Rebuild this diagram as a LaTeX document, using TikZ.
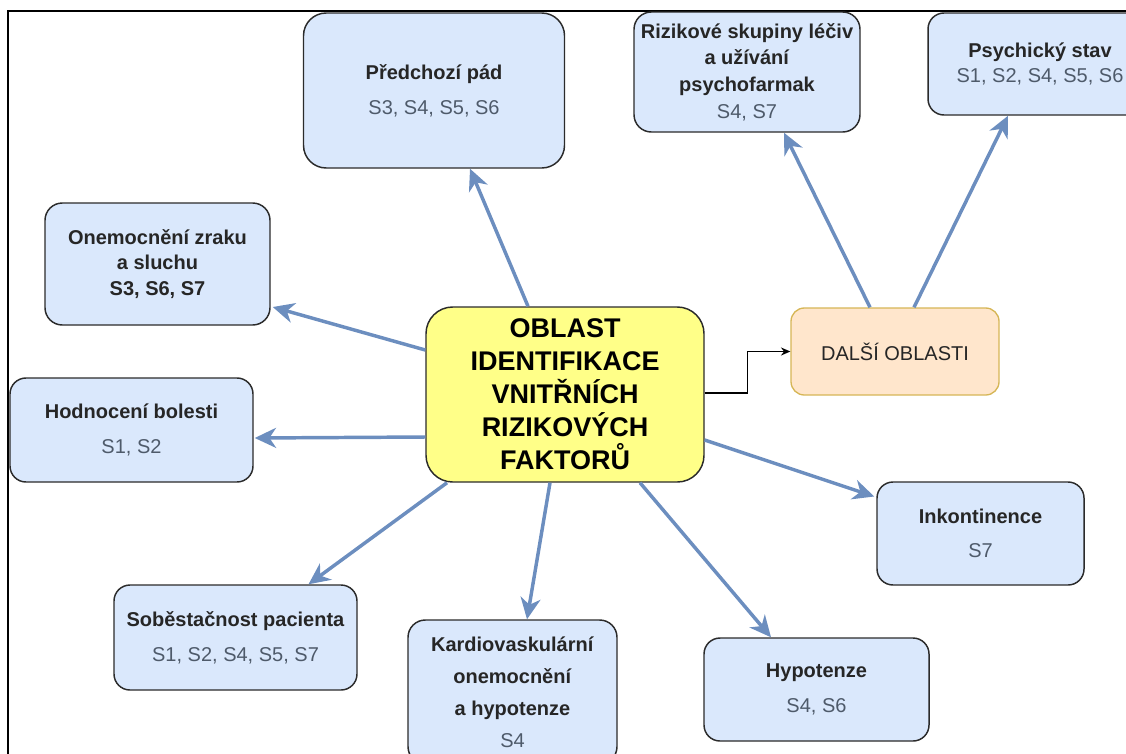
\documentclass[tikz,border=0pt]{standalone}
\usepackage{fontspec}
\setmainfont{Liberation Sans}
\usetikzlibrary{arrows.meta,calc}
\definecolor{factorfill}{HTML}{DAE8FC}
\definecolor{mainfill}{HTML}{FFFF88}
\definecolor{morefill}{HTML}{FFE6CC}
\definecolor{moreline}{HTML}{D6B656}
\definecolor{boxline}{HTML}{2B2B2B}
\definecolor{arrowblue}{HTML}{6C8EBF}
\definecolor{titletext}{HTML}{262626}
\definecolor{refgray}{HTML}{4E5A6A}
\newcommand\ttl[1]{\textbf{#1}}
\newcommand\sgrp[1]{\textcolor{refgray}{#1}}
\tikzset{
  boxsize/.style 2 args={minimum width=#1*0.75pt, minimum height=#2*0.75pt},
  factor/.style={draw=boxline, fill=factorfill, line width=1.1pt, align=center,
    inner sep=0pt, text=titletext, font=\fontsize{15}{26}\selectfont},
  mainbox/.style={draw=boxline, fill=mainfill, line width=1.1pt, align=center,
    inner sep=0pt, rounded corners=20pt, font=\fontsize{20.25}{24.75}\selectfont\bfseries},
  morebox/.style={draw=moreline, fill=morefill, line width=1pt, align=center,
    inner sep=0pt, rounded corners=10pt, text=titletext, font=\fontsize{15}{18}\selectfont},
  arr/.style={draw=arrowblue, line width=2.6pt, -{Stealth[length=16pt,width=15pt,inset=5pt]}},
  elbow/.style={draw=black, line width=1.1pt, -{Stealth[length=7pt,width=6pt]}},
}
\begin{document}
\begin{tikzpicture}[x=0.75pt,y=-0.75pt]
  \useasboundingbox (0,0) rectangle (1126,753);
  \clip (0,0) rectangle (1126,753);
  \draw[line width=1.5pt] (8,780) -- (8,11) -- (1140,11);

  \node[mainbox, boxsize={278}{175}] (ctr) at (565,394.5)
    {OBLAST\\IDENTIFIKACE\\VNITŘNÍCH\\RIZIKOVÝCH\\FAKTORŮ};
  \node[morebox, boxsize={208}{87}] (more) at (895,351.5) {DALŠÍ OBLASTI};

  \node[factor, boxsize={261}{155}, rounded corners=17pt] (pad) at (434,90.5)
    {\ttl{Předchozí pád}\\\sgrp{S3, S4, S5, S6}};
  \node[factor, boxsize={226}{120}, rounded corners=13pt, font=\fontsize{15}{20}\selectfont] (drug) at (747,72)
    {\ttl{Rizikové skupiny léčiv}\\\ttl{a užívání}\\\ttl{psychofarmak}\\\sgrp{S4, S7}};
  \node[factor, boxsize={224}{102}, rounded corners=12pt, font=\fontsize{15}{19}\selectfont] (psych) at (1040,64)
    {\ttl{Psychický stav}\\\sgrp{S1, S2, S4, S5, S6}};
  \node[factor, boxsize={225}{122}, rounded corners=13pt, font=\fontsize{15}{19}\selectfont] (eye) at (157.5,264)
    {\ttl{Onemocnění zraku}\\\ttl{a sluchu}\\\ttl{S3, S6, S7}};
  \node[factor, boxsize={243}{104}, rounded corners=12pt] (pain) at (131.5,430)
    {\ttl{Hodnocení bolesti}\\\sgrp{S1, S2}};
  \node[factor, boxsize={243}{105}, rounded corners=12pt] (self) at (235.5,637.5)
    {\ttl{Soběstačnost pacienta}\\\sgrp{S1, S2, S4, S5, S7}};
  \node[factor, boxsize={209}{144}, rounded corners=13pt, font=\fontsize{15}{24}\selectfont] (cardio) at (512.5,692)
    {\ttl{Kardiovaskulární}\\\ttl{onemocnění}\\\ttl{a hypotenze}\\\sgrp{S4}};
  \node[factor, boxsize={225}{103}, rounded corners=12pt] (hypo) at (816.5,689.5)
    {\ttl{Hypotenze}\\\sgrp{S4, S6}};
  \node[factor, boxsize={207}{103}, rounded corners=12pt] (incont) at (980.5,533.5)
    {\ttl{Inkontinence}\\\sgrp{S7}};

  \draw[arr] ($(ctr.north)+(-37,0)$) -- ($(pad.south)+(36,0)$);
  \draw[arr] ($(ctr.west)+(0,-44.5)$) -- ($(eye.east)+(2,43)$);
  \draw[arr] ($(ctr.west)+(0,42.5)$) -- ($(pain.east)+(1,8)$);
  \draw[arr] ($(ctr.south)+(-118,0)$) -- ($(self.north)+(73,0)$);
  \draw[arr] ($(ctr.south)+(-15,0)$) -- ($(cardio.north)+(14.5,0)$);
  \draw[arr] ($(ctr.south)+(75,0)$) -- ($(hypo.north)+(-45.5,0)$);
  \draw[arr] ($(ctr.east)+(0,45.5)$) -- ($(incont.west)+(-2,-37)$);
  \draw[arr] ($(more.north)+(-25,0)$) -- ($(drug.south)+(37,0)$);
  \draw[arr] ($(more.north)+(19,0)$) -- ($(psych.south)+(-32,0)$);
  \draw[elbow] ($(ctr.east)+(0,-1.5)$) -- ++(43,0) |- (more.west);
\end{tikzpicture}
\end{document}
